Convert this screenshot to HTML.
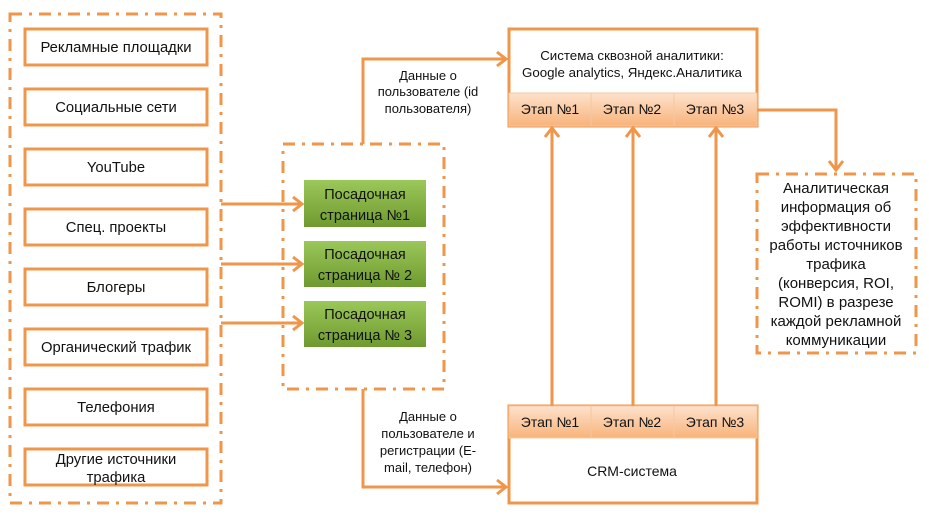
<!DOCTYPE html>
<html><head><meta charset="utf-8"><style>
html,body{margin:0;padding:0;background:#fff;}
svg{display:block;font-family:"Liberation Sans","DejaVu Sans",sans-serif;font-size:13px;}
text{fill:#111;text-anchor:middle;}
</style></head><body>
<svg width="929" height="518" viewBox="0 0 929 518" xmlns="http://www.w3.org/2000/svg">
<defs>
<linearGradient id="g" x1="0" y1="0" x2="0" y2="1"><stop offset="0" stop-color="#9cc75a"/><stop offset="1" stop-color="#6e9a2f"/></linearGradient>
<linearGradient id="o" x1="0" y1="0" x2="0" y2="1"><stop offset="0" stop-color="#fde2cc"/><stop offset="1" stop-color="#f8b37a"/></linearGradient>
</defs>
<g fill="none" stroke="#f0964a" stroke-width="3" stroke-dasharray="12 7 3 7">
<rect x="10" y="14" width="211" height="489"/>
<rect x="283" y="144" width="161" height="245"/>
<rect x="757" y="174" width="159" height="179"/>
</g>
<g fill="#fff" stroke="#f0964a" stroke-width="3">
<rect x="25" y="29" width="182" height="36"/>
<rect x="25" y="89" width="182" height="36"/>
<rect x="25" y="149" width="182" height="36"/>
<rect x="25" y="209" width="182" height="36"/>
<rect x="25" y="269" width="182" height="36"/>
<rect x="25" y="329" width="182" height="36"/>
<rect x="25" y="389" width="182" height="36"/>
<rect x="25" y="449" width="182" height="36"/>
<rect x="509" y="29" width="248" height="97"/>
<rect x="509" y="406" width="248" height="97"/>
</g>
<g style="font-size:14.8px">
<text x="116" y="52">Рекламные площадки</text>
<text x="116" y="112">Социальные сети</text>
<text x="116" y="172">YouTube</text>
<text x="116" y="232">Спец. проекты</text>
<text x="116" y="292">Блогеры</text>
<text x="116" y="352">Органический трафик</text>
<text x="116" y="412">Телефония</text>
<text x="116" y="464">Другие источники</text>
<text x="116" y="482">трафика</text>
</g>
<rect x="304" y="180" width="122" height="47" fill="url(#g)"/>
<rect x="304" y="241" width="122" height="46" fill="url(#g)"/>
<rect x="304" y="301" width="122" height="46" fill="url(#g)"/>
<g style="font-size:14.5px">
<text x="365" y="199">Посадочная</text><text x="365" y="220">страница №1</text>
<text x="365" y="259">Посадочная</text><text x="365" y="280">страница № 2</text>
<text x="365" y="319">Посадочная</text><text x="365" y="340">страница № 3</text>
</g>
<g stroke="#f5c79f" stroke-width="1">
<rect x="509" y="93" width="82" height="33" fill="url(#o)"/>
<rect x="591" y="93" width="83" height="33" fill="url(#o)"/>
<rect x="674" y="93" width="83" height="33" fill="url(#o)"/>
<rect x="509" y="406" width="82" height="32" fill="url(#o)"/>
<rect x="591" y="406" width="83" height="32" fill="url(#o)"/>
<rect x="674" y="406" width="83" height="32" fill="url(#o)"/>
</g>
<text x="632" y="60" style="font-size:13.3px">Система сквозной аналитики:</text>
<text x="632" y="77" style="font-size:13.3px">Google analytics, Яндекс.Аналитика</text>
<g style="font-size:14px">
<text x="550" y="114">Этап №1</text><text x="632" y="114">Этап №2</text><text x="715" y="114">Этап №3</text>
<text x="550" y="427">Этап №1</text><text x="632" y="427">Этап №2</text><text x="715" y="427">Этап №3</text>
<text x="632" y="476">CRM-система</text>
</g>
<g style="font-size:13px">
<text x="428" y="80">Данные о</text>
<text x="428" y="96">пользователе (id</text>
<text x="428" y="113">пользователя)</text>
<text x="428" y="421">Данные о</text>
<text x="428" y="438">пользователе и</text>
<text x="428" y="455">регистрации (E-</text>
<text x="428" y="472">mail, телефон)</text>
</g>
<g style="font-size:15px">
<text x="836" y="193">Аналитическая</text>
<text x="836" y="212">информация об</text>
<text x="836" y="231">эффективности</text>
<text x="836" y="250">работы источников</text>
<text x="836" y="269">трафика</text>
<text x="836" y="288">(конверсия, ROI,</text>
<text x="836" y="307">ROMI) в разрезе</text>
<text x="836" y="326">каждой рекламной</text>
<text x="836" y="345">коммуникации</text>
</g>
<g fill="none" stroke="#f0964a" stroke-width="3">
<path d="M221 204H302M221 264H302M221 323H302"/>
<path d="M293 197l9 7-9 7M293 257l9 7-9 7M293 316l9 7-9 7"/>
<path d="M363 144V59H506M497 52l9 7-9 7"/>
<path d="M363 389V487H506M497 480l9 7-9 7"/>
<path d="M552 406V128M633 406V128M716 406V128"/>
<path d="M545 137l7-9 7 9M626 137l7-9 7 9M709 137l7-9 7 9"/>
<path d="M757 110H836V170M829 161l7 9 7-9"/>
</g>
</svg>
</body></html>
